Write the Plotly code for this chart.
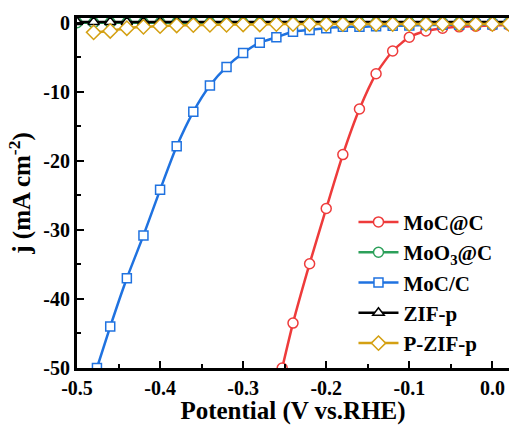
import plotly.graph_objects as go

# ---- data ----
x_moc_c = [-0.253, -0.24, -0.22, -0.20, -0.18, -0.16, -0.14, -0.12, -0.10, -0.08, -0.06, -0.04, -0.02, 0.00, 0.02]
y_moc_c = [-50.0, -43.5, -34.9, -26.9, -19.1, -12.5, -7.4, -4.1, -2.1, -1.2, -0.8, -0.6, -0.5, -0.4, -0.35]

x_grid = [-0.50, -0.48, -0.46, -0.44, -0.42, -0.40, -0.38, -0.36, -0.34, -0.32, -0.30, -0.28, -0.26,
          -0.24, -0.22, -0.20, -0.18, -0.16, -0.14, -0.12, -0.10, -0.08, -0.06, -0.04, -0.02, 0.00, 0.02]
y_moo3 = [0.0, 0.0, 0.0, 0.0, 0.0, 0.0, 0.0, 0.0, 0.0, 0.0, 0.0, 0.0, 0.0,
          0.0, 0.0, 0.0, 0.0, 0.0, 0.0, 0.0, 0.0, 0.0, 0.0, 0.0, 0.0, 0.0, 0.0]

x_moc_slash = [-0.476, -0.46, -0.44, -0.42, -0.40, -0.38, -0.36, -0.34, -0.32, -0.30, -0.28, -0.26, -0.24,
               -0.22, -0.20, -0.18, -0.16, -0.14, -0.12, -0.10, -0.08, -0.06, -0.04, -0.02, 0.00, 0.02]
y_moc_slash = [-50.0, -44.0, -37.0, -30.8, -24.2, -17.9, -12.9, -9.1, -6.4, -4.4, -2.9, -2.1, -1.3,
               -1.05, -0.8, -0.6, -0.6, -0.5, -0.45, -0.4, -0.35, -0.3, -0.3, -0.25, -0.25, -0.2]

y_zif = [0.1, 0.1, 0.1, 0.1, 0.1, 0.1, 0.1, 0.1, 0.1, 0.1, 0.1, 0.1, 0.1,
         0.1, 0.1, 0.1, 0.1, 0.1, 0.1, 0.1, 0.1, 0.1, 0.1, 0.1, 0.1, 0.1, 0.1]

x_pzif = [-0.48, -0.46, -0.44, -0.42, -0.40, -0.38, -0.36, -0.34, -0.32, -0.30, -0.28, -0.26, -0.24,
          -0.22, -0.20, -0.18, -0.16, -0.14, -0.12, -0.10, -0.08, -0.06, -0.04, -0.02, 0.00, 0.02]
y_pzif = [-1.4, -1.2, -0.8, -0.6, -0.5, -0.4, -0.35, -0.3, -0.3, -0.25, -0.25, -0.2, -0.2,
          -0.2, -0.2, -0.2, -0.2, -0.2, -0.2, -0.2, -0.2, -0.2, -0.2, -0.2, -0.2, -0.2]

x_tickvals = [-0.5, -0.4, -0.3, -0.2, -0.1, 0.0]
x_ticktext = ["-0.5", "-0.4", "-0.3", "-0.2", "-0.1", "0.0"]
y_tickvals = [0, -10, -20, -30, -40, -50]
y_ticktext = ["0", "-10", "-20", "-30", "-40", "-50"]

names = ["MoC@C", "MoO<sub>3</sub>@C", "MoC/C", "ZIF-p", "P-ZIF-p"]
colors = ["#EE3B3B", "#2CA05A", "#1F72E0", "#000000", "#D4A012"]

FONT = "Liberation Serif"

fig = go.Figure()

def add(x, y, name, color, symbol, size):
    fig.add_trace(go.Scatter(
        x=x, y=y, name=name, mode="lines+markers",
        line=dict(color=color, width=2.5, shape="spline", smoothing=0.6),
        marker=dict(symbol=symbol, size=size, color="white",
                    line=dict(color=color, width=1.5)),
    ))

add(x_moc_c, y_moc_c, names[0], colors[0], "circle", 10)
add(x_grid, y_moo3, names[1], colors[1], "circle", 10)
add(x_moc_slash, y_moc_slash, names[2], colors[2], "square", 9)
add(x_grid, y_zif, names[3], colors[3], "triangle-up", 10)
add(x_pzif, y_pzif, names[4], colors[4], "diamond", 11)

fig.update_layout(
    width=509, height=425,
    margin=dict(l=77, r=0, t=18, b=57),
    plot_bgcolor="white", paper_bgcolor="white",
    font=dict(family=FONT, color="black"),
    showlegend=True,
    legend=dict(x=0.64, y=0.475, xanchor="left", yanchor="top",
                bgcolor="rgba(0,0,0,0)", borderwidth=0,
                font=dict(family=FONT, size=21, color="black", weight="bold"),
                tracegroupgap=0, itemwidth=40),
    xaxis=dict(
        range=[-0.5, 0.02], showgrid=False, zeroline=False,
        showline=True, linecolor="black", linewidth=3, mirror=True,
        ticks="inside", ticklen=7, tickwidth=2, tickcolor="black",
        tickvals=x_tickvals, ticktext=x_ticktext,
        tickfont=dict(family=FONT, size=20, color="black", weight="bold"),
        minor=dict(ticks="inside", ticklen=4, tickwidth=2, tickcolor="black", dtick=0.05),
        title=dict(text="Potential (V vs.RHE)", standoff=6,
                   font=dict(family=FONT, size=25, color="black", weight="bold")),
    ),
    yaxis=dict(
        range=[-50, 0.68], showgrid=False, zeroline=False,
        showline=True, linecolor="black", linewidth=3, mirror=False,
        ticks="inside", ticklen=7, tickwidth=2, tickcolor="black",
        tickvals=y_tickvals, ticktext=y_ticktext,
        tickfont=dict(family=FONT, size=20, color="black", weight="bold"),
        minor=dict(ticks="inside", ticklen=4, tickwidth=2, tickcolor="black", dtick=5),
        title=dict(text="j (mA cm<sup>-2</sup>)", standoff=6,
                   font=dict(family=FONT, size=25, color="black", weight="bold")),
    ),
)

fig.write_html("out.html")
